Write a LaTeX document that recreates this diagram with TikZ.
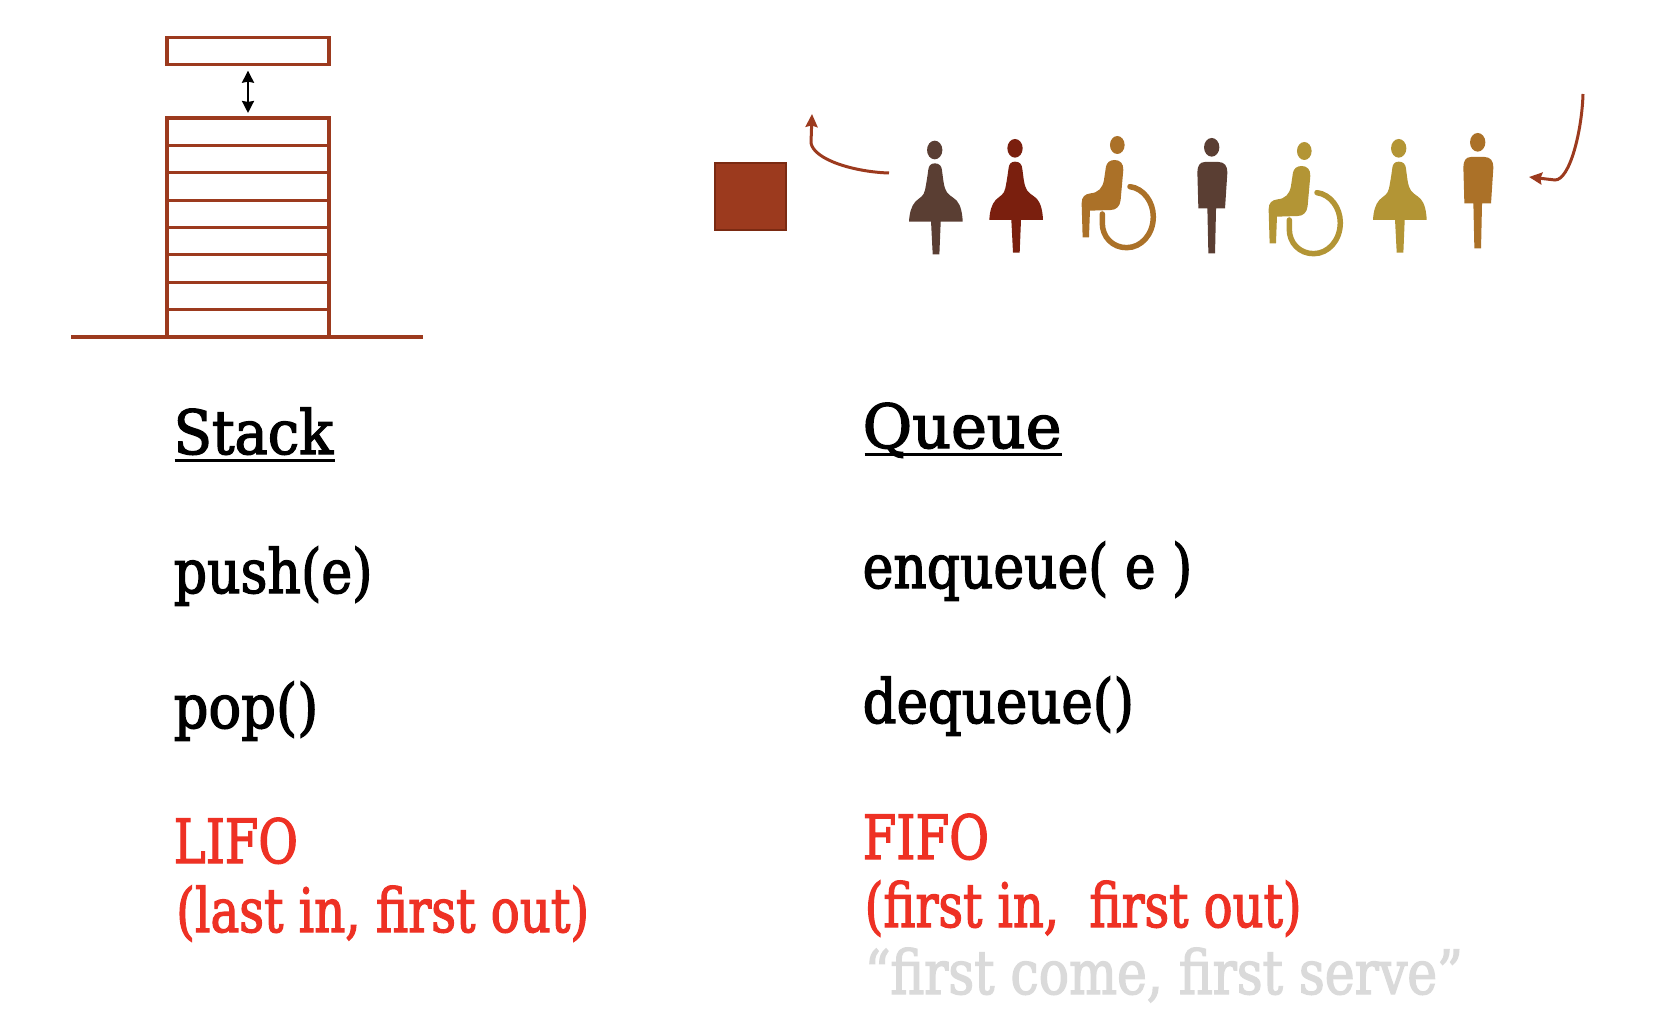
\documentclass[tikz,border=0pt]{standalone}
\usepackage{fontspec}
\usepackage{graphicx}
\setmainfont{DejaVu Serif Condensed}[FakeBold=2.2]
\usetikzlibrary{arrows.meta}
\definecolor{rust}{HTML}{9C3A1E}
\definecolor{rustdark}{HTML}{7A2A12}
\definecolor{umber}{HTML}{5A3E33}
\definecolor{maroon}{HTML}{7A1F0E}
\definecolor{ochre}{HTML}{AB7128}
\definecolor{mustard}{HTML}{B39535}
\definecolor{fifored}{HTML}{EE3124}
\definecolor{paleline}{HTML}{DADADA}

\newcommand{\squeezed}[2]{\scalebox{#1}[1]{#2}}

\tikzset{
skirt/.pic={
	\fill[#1] (0,0) ellipse (23 and 28);
	\fill[#1] (0,40) .. controls (14,40) and (21,48) .. (22,62) .. controls (25,85) and (27,105) .. (31,115)
		.. controls (36,135) and (55,140) .. (66,152) .. controls (78,165) and (83,190) .. (84,215)
		-- (18,215) -- (14,313) -- (-6,313) -- (-11,215) -- (-77,215)
		.. controls (-76,190) and (-70,168) .. (-58,155) .. controls (-45,142) and (-33,140) .. (-29,120)
		.. controls (-25,100) and (-22,80) .. (-19,58) .. controls (-18,48) and (-12,40) .. (0,40) -- cycle;
},
plain/.pic={
	\fill[#1] (0,0) ellipse (23 and 28);
	\fill[#1] (-20,44) -- (20,44) .. controls (38,44) and (47,56) .. (47,75) -- (40,183) -- (13,183) -- (10,318)
		-- (-10,318) -- (-13,183) -- (-40,183) -- (-43,75) .. controls (-43,56) and (-36,44) .. (-20,44) -- cycle;
},
chair/.pic={
	\fill[#1] (0,0) ellipse (22 and 27);
	\fill[#1] (-8,45) .. controls (8,45) and (19,55) .. (18,75) -- (10,165) .. controls (8,185) and (-4,195) .. (-20,195)
		-- (-82,197) -- (-85,277) -- (-104,277) -- (-107,175) .. controls (-107,155) and (-97,147) .. (-80,145)
		.. controls (-58,143) and (-44,130) .. (-40,105) -- (-34,65) .. controls (-31,52) and (-22,45) .. (-8,45) -- cycle;
	\draw[#1, line width=5.5pt, line cap=round] (38,125) .. controls (78,130) and (108,170) .. (108,215)
		.. controls (108,268) and (72,308) .. (28,308) .. controls (-15,308) and (-45,275) .. (-45,235) -- (-45,207);
},
}

\begin{document}
\begin{tikzpicture}[
x=1pt, y=-1pt,
cell/.style={draw=rust, line width=3.2pt, minimum width=162pt, minimum height=27.4pt, inner sep=0, outer sep=0},
ground/.style={draw=rust, line width=3.2pt},
box/.style={draw=rustdark, fill=rust, line width=2.2pt, minimum width=71pt, minimum height=67pt, inner sep=0},
swap/.style={{Stealth[length=12pt,width=12pt,inset=1pt]}-{Stealth[length=12pt,width=12pt,inset=1pt]}, line width=2.2pt, shorten <=6pt, shorten >=5pt},
flow/.style={-{Stealth[length=13pt,width=12pt,inset=1.5pt]}, draw=rust, line width=3pt},
txt/.style={anchor=base west, inner sep=0, font=\fontsize{61}{61}\selectfont},
hot/.style={txt, text=fifored},
pale/.style={txt, text=paleline},
rule/.style={line width=3pt}
]
\useasboundingbox (0,0) rectangle (1658,1022);

\def\cellh{27.375}

%%% Stack
\node[cell] (top) at (248,51) {};
\foreach \i in {1,...,8}{
	\pgfmathsetmacro{\y}{118+(\i-.5)*\cellh}
	\node[cell] (c\i) at (248,\y) {};
}
\draw[swap] (top.south)--(c1.north);
\coordinate (gl) at (71,337);
\coordinate (gr) at (423,337);
\draw[ground] (gl)--(gr);

%%% Queue
\node[box] (server) at (750.5,196.5) {};
\coordinate (outs) at (889,173);
\coordinate (oute) at (812,114);
\coordinate (ins) at (1583,94);
\coordinate (ine) at (1529,177);
\draw[flow] (outs) .. controls (855,172) and (814,160) .. (811,143) -- (oute);
\draw[flow] (ins) .. controls (1582,130) and (1570,180) .. (1555,180) -- (ine);

\foreach \px/\py/\fig/\col in {
	934.7/150/skirt/umber,
	1015/148.3/skirt/maroon,
	1117.3/145/chair/ochre,
	1211.7/147.3/plain/umber,
	1304.3/151/chair/mustard,
	1398.7/148.3/skirt/mustard,
	1477.7/142.3/plain/ochre}{
	\pic[scale=1/3] at (\px,\py) {\fig={\col}};
}

%%% Text
\node[txt] (stack) at (173.5,454) {\squeezed{1.02}{Stack}};
\node[txt] (push) at (173.5,593) {\squeezed{.95}{push(e)}};
\node[txt] (pop) at (173.5,728) {\squeezed{.99}{pop()}};
\node[hot] (lifo) at (173.5,863) {\squeezed{.88}{LIFO}};
\node[hot] (lifolong) at (176,932) {\squeezed{.88}{(last in, first out)}};

\node[txt] (queue) at (862.5,448) {\squeezed{1.1}{Queue}};
\node[txt] (enq) at (862.5,588) {\squeezed{.945}{enqueue( e )}};
\node[txt] (deq) at (862.5,723) {\squeezed{.965}{dequeue()}};
\node[hot] (fifo) at (862.5,859) {\squeezed{.885}{FIFO}};
\node[hot] (fifolong) at (864.5,927) {\squeezed{.875}{(first in,\ \ first out)}};
\node[pale] (serve) at (864.5,994) {\squeezed{.92}{“first come, first serve”}};

\draw[rule] (stack.base west)++(1,6)--++(160,0);
\draw[rule] (queue.base west)++(2,6)--++(197,0);

\end{tikzpicture}
\end{document}
